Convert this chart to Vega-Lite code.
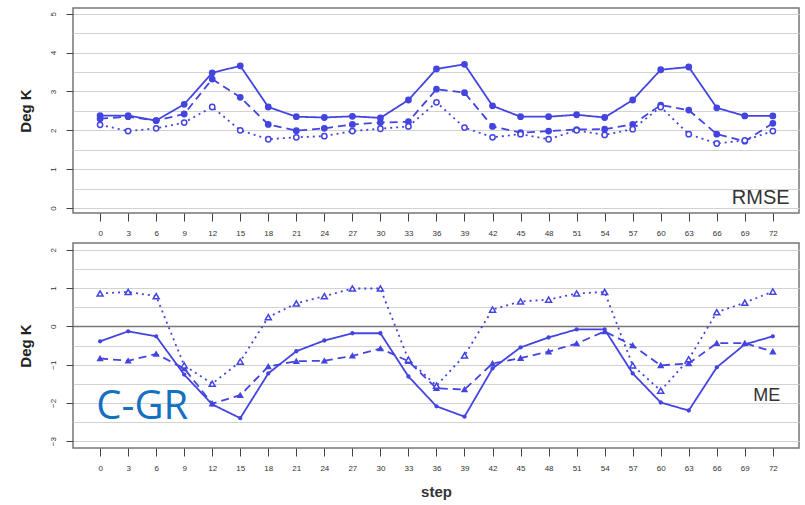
{
  "$schema": "https://vega.github.io/schema/vega-lite/v6.json",
  "padding": {"left": 17, "top": 7, "right": 5, "bottom": 5},
  "background": "white",
  "spacing": 4,
  "datasets": {
    "rmse": [
      {"step":0,"series":"s1","value":2.38},{"step":3,"series":"s1","value":2.38},{"step":6,"series":"s1","value":2.25},{"step":9,"series":"s1","value":2.67},{"step":12,"series":"s1","value":3.48},{"step":15,"series":"s1","value":3.66},{"step":18,"series":"s1","value":2.6},{"step":21,"series":"s1","value":2.35},{"step":24,"series":"s1","value":2.33},{"step":27,"series":"s1","value":2.36},{"step":30,"series":"s1","value":2.32},{"step":33,"series":"s1","value":2.78},{"step":36,"series":"s1","value":3.58},{"step":39,"series":"s1","value":3.7},{"step":42,"series":"s1","value":2.63},{"step":45,"series":"s1","value":2.35},{"step":48,"series":"s1","value":2.35},{"step":51,"series":"s1","value":2.4},{"step":54,"series":"s1","value":2.33},{"step":57,"series":"s1","value":2.78},{"step":60,"series":"s1","value":3.56},{"step":63,"series":"s1","value":3.63},{"step":66,"series":"s1","value":2.58},{"step":69,"series":"s1","value":2.37},{"step":72,"series":"s1","value":2.37},
      {"step":0,"series":"s2","value":2.3},{"step":3,"series":"s2","value":2.35},{"step":6,"series":"s2","value":2.25},{"step":9,"series":"s2","value":2.42},{"step":12,"series":"s2","value":3.32},{"step":15,"series":"s2","value":2.85},{"step":18,"series":"s2","value":2.15},{"step":21,"series":"s2","value":1.99},{"step":24,"series":"s2","value":2.05},{"step":27,"series":"s2","value":2.15},{"step":30,"series":"s2","value":2.2},{"step":33,"series":"s2","value":2.22},{"step":36,"series":"s2","value":3.06},{"step":39,"series":"s2","value":2.97},{"step":42,"series":"s2","value":2.1},{"step":45,"series":"s2","value":1.94},{"step":48,"series":"s2","value":1.98},{"step":51,"series":"s2","value":2.02},{"step":54,"series":"s2","value":2.03},{"step":57,"series":"s2","value":2.15},{"step":60,"series":"s2","value":2.65},{"step":63,"series":"s2","value":2.52},{"step":66,"series":"s2","value":1.9},{"step":69,"series":"s2","value":1.72},{"step":72,"series":"s2","value":2.18},
      {"step":0,"series":"s3","value":2.14},{"step":3,"series":"s3","value":1.98},{"step":6,"series":"s3","value":2.05},{"step":9,"series":"s3","value":2.2},{"step":12,"series":"s3","value":2.6},{"step":15,"series":"s3","value":2.0},{"step":18,"series":"s3","value":1.77},{"step":21,"series":"s3","value":1.82},{"step":24,"series":"s3","value":1.85},{"step":27,"series":"s3","value":1.98},{"step":30,"series":"s3","value":2.04},{"step":33,"series":"s3","value":2.1},{"step":36,"series":"s3","value":2.72},{"step":39,"series":"s3","value":2.07},{"step":42,"series":"s3","value":1.82},{"step":45,"series":"s3","value":1.9},{"step":48,"series":"s3","value":1.77},{"step":51,"series":"s3","value":2.0},{"step":54,"series":"s3","value":1.88},{"step":57,"series":"s3","value":2.03},{"step":60,"series":"s3","value":2.6},{"step":63,"series":"s3","value":1.9},{"step":66,"series":"s3","value":1.66},{"step":69,"series":"s3","value":1.74},{"step":72,"series":"s3","value":1.98}
    ],
    "me": [
      {"step":0,"series":"s1","value":-0.39},{"step":3,"series":"s1","value":-0.13},{"step":6,"series":"s1","value":-0.26},{"step":9,"series":"s1","value":-1.26},{"step":12,"series":"s1","value":-2.04},{"step":15,"series":"s1","value":-2.4},{"step":18,"series":"s1","value":-1.23},{"step":21,"series":"s1","value":-0.65},{"step":24,"series":"s1","value":-0.37},{"step":27,"series":"s1","value":-0.18},{"step":30,"series":"s1","value":-0.18},{"step":33,"series":"s1","value":-1.31},{"step":36,"series":"s1","value":-2.09},{"step":39,"series":"s1","value":-2.36},{"step":42,"series":"s1","value":-1.1},{"step":45,"series":"s1","value":-0.55},{"step":48,"series":"s1","value":-0.29},{"step":51,"series":"s1","value":-0.08},{"step":54,"series":"s1","value":-0.08},{"step":57,"series":"s1","value":-1.23},{"step":60,"series":"s1","value":-1.99},{"step":63,"series":"s1","value":-2.2},{"step":66,"series":"s1","value":-1.07},{"step":69,"series":"s1","value":-0.47},{"step":72,"series":"s1","value":-0.26},
      {"step":0,"series":"s2","value":-0.84},{"step":3,"series":"s2","value":-0.9},{"step":6,"series":"s2","value":-0.72},{"step":9,"series":"s2","value":-1.1},{"step":12,"series":"s2","value":-2.02},{"step":15,"series":"s2","value":-1.8},{"step":18,"series":"s2","value":-1.05},{"step":21,"series":"s2","value":-0.91},{"step":24,"series":"s2","value":-0.9},{"step":27,"series":"s2","value":-0.77},{"step":30,"series":"s2","value":-0.58},{"step":33,"series":"s2","value":-0.91},{"step":36,"series":"s2","value":-1.62},{"step":39,"series":"s2","value":-1.65},{"step":42,"series":"s2","value":-0.97},{"step":45,"series":"s2","value":-0.83},{"step":48,"series":"s2","value":-0.66},{"step":51,"series":"s2","value":-0.45},{"step":54,"series":"s2","value":-0.13},{"step":57,"series":"s2","value":-0.5},{"step":60,"series":"s2","value":-1.02},{"step":63,"series":"s2","value":-0.97},{"step":66,"series":"s2","value":-0.44},{"step":69,"series":"s2","value":-0.44},{"step":72,"series":"s2","value":-0.66},
      {"step":0,"series":"s3","value":0.86},{"step":3,"series":"s3","value":0.9},{"step":6,"series":"s3","value":0.79},{"step":9,"series":"s3","value":-1.02},{"step":12,"series":"s3","value":-1.5},{"step":15,"series":"s3","value":-0.92},{"step":18,"series":"s3","value":0.24},{"step":21,"series":"s3","value":0.6},{"step":24,"series":"s3","value":0.79},{"step":27,"series":"s3","value":0.99},{"step":30,"series":"s3","value":0.99},{"step":33,"series":"s3","value":-0.87},{"step":36,"series":"s3","value":-1.55},{"step":39,"series":"s3","value":-0.76},{"step":42,"series":"s3","value":0.44},{"step":45,"series":"s3","value":0.65},{"step":48,"series":"s3","value":0.7},{"step":51,"series":"s3","value":0.86},{"step":54,"series":"s3","value":0.9},{"step":57,"series":"s3","value":-1.02},{"step":60,"series":"s3","value":-1.68},{"step":63,"series":"s3","value":-0.86},{"step":66,"series":"s3","value":0.37},{"step":69,"series":"s3","value":0.62},{"step":72,"series":"s3","value":0.91}
    ]
  },
  "vconcat": [
    {
      "width": 726,
      "height": 205,
      "layer": [
        {
          "data": {"name": "rmse"},
          "mark": {"type": "line", "strokeWidth": 1.8, "color": "#4444e0"},
          "encoding": {
            "x": {"field": "step", "type": "quantitative", "scale": {"domain": [-2.9, 74.8], "nice": false, "zero": false},
                  "axis": {"values": [0,3,6,9,12,15,18,21,24,27,30,33,36,39,42,45,48,51,54,57,60,63,66,69,72], "tickCount": 100, "format": "d", "labelOverlap": false, "title": null}},
            "y": {"field": "value", "type": "quantitative", "scale": {"domain": [-0.13, 5.15], "nice": false, "zero": false},
                  "axis": {"values": [0,0.5,1,1.5,2,2.5,3,3.5,4,4.5,5], "tickCount": 100, "labelOverlap": false, "title": "Deg K",
                           "labelExpr": "datum.value % 1 === 0 ? format(datum.value, 'd') : ''",
                           "tickColor": {"condition": {"test": "datum.value % 1 !== 0", "value": "transparent"}, "value": "#444"}}},
            "strokeDash": {"field": "series", "type": "nominal", "scale": {"domain": ["s1","s2","s3"], "range": [[1,0],[8,5],[2,4]]}, "legend": null}
          }
        },
        {
          "data": {"name": "rmse"},
          "mark": {"type": "point", "filled": true, "size": 28, "stroke": "#4444e0", "strokeWidth": 1.5, "shape": "circle", "opacity": 1},
          "encoding": {
            "x": {"field": "step", "type": "quantitative"},
            "y": {"field": "value", "type": "quantitative"},
            "fill": {"field": "series", "type": "nominal", "scale": {"domain": ["s1","s2","s3"], "range": ["#4444e0","#4444e0","#ffffff"]}, "legend": null}
          }
        },
        {
          "data": {"values": [{"step": 73.8, "value": 0.26, "label": "RMSE"}]},
          "mark": {"type": "text", "align": "right", "baseline": "middle", "fontSize": 20, "color": "#333333", "font": "Liberation Sans"},
          "encoding": {
            "x": {"field": "step", "type": "quantitative"},
            "y": {"field": "value", "type": "quantitative"},
            "text": {"field": "label"}
          }
        }
      ]
    },
    {
      "width": 726,
      "height": 205,
      "layer": [
        {
          "data": {"name": "me"},
          "mark": {"type": "line", "strokeWidth": 1.8, "color": "#4444e0"},
          "encoding": {
            "x": {"field": "step", "type": "quantitative", "scale": {"domain": [-2.9, 74.8], "nice": false, "zero": false},
                  "axis": {"values": [0,3,6,9,12,15,18,21,24,27,30,33,36,39,42,45,48,51,54,57,60,63,66,69,72], "tickCount": 100, "format": "d", "labelOverlap": false, "title": "step"}},
            "y": {"field": "value", "type": "quantitative", "scale": {"domain": [-3.18, 2.18], "nice": false, "zero": false},
                  "axis": {"values": [-3,-2.5,-2,-1.5,-1,-0.5,0,0.5,1,1.5,2], "tickCount": 100, "labelOverlap": false, "title": "Deg K",
                           "labelExpr": "datum.value % 1 === 0 ? format(datum.value, 'd') : ''",
                           "tickColor": {"condition": {"test": "datum.value % 1 !== 0", "value": "transparent"}, "value": "#444"},
                           "gridColor": {"condition": {"test": "datum.value === 0", "value": "#777777"}, "value": "#d2d2d2"},
                           "gridWidth": {"condition": {"test": "datum.value === 0", "value": 1.5}, "value": 1}}},
            "strokeDash": {"field": "series", "type": "nominal", "scale": {"domain": ["s1","s2","s3"], "range": [[1,0],[8,5],[2,4]]}, "legend": null}
          }
        },
        {
          "data": {"name": "me"},
          "mark": {"type": "point", "filled": true, "stroke": "#4444e0", "strokeWidth": 1.5, "opacity": 1},
          "encoding": {
            "x": {"field": "step", "type": "quantitative"},
            "y": {"field": "value", "type": "quantitative"},
            "shape": {"field": "series", "type": "nominal", "scale": {"domain": ["s1","s2","s3"], "range": ["circle","triangle-up","triangle-up"]}, "legend": null},
            "size": {"field": "series", "type": "nominal", "scale": {"domain": ["s1","s2","s3"], "range": [8, 36, 36]}, "legend": null},
            "fill": {"field": "series", "type": "nominal", "scale": {"domain": ["s1","s2","s3"], "range": ["#4444e0","#4444e0","#ffffff"]}, "legend": null}
          }
        },
        {
          "data": {"values": [{"step": 72.8, "value": -1.83, "label": "ME"}]},
          "mark": {"type": "text", "align": "right", "baseline": "middle", "fontSize": 18, "color": "#333333", "font": "Liberation Sans"},
          "encoding": {
            "x": {"field": "step", "type": "quantitative"},
            "y": {"field": "value", "type": "quantitative"},
            "text": {"field": "label"}
          }
        },
        {
          "data": {"values": [{"step": -0.4, "value": -2.12, "label": "C-GR"}]},
          "mark": {"type": "text", "align": "left", "baseline": "middle", "fontSize": 40, "color": "#1570c0", "font": "Open Sans"},
          "encoding": {
            "x": {"field": "step", "type": "quantitative"},
            "y": {"field": "value", "type": "quantitative"},
            "text": {"field": "label"}
          }
        }
      ]
    }
  ],
  "resolve": {"scale": {"fill": "independent", "shape": "independent", "size": "independent"}},
  "config": {
    "font": "Liberation Sans",
    "view": {"stroke": "#777777", "strokeWidth": 1.5},
    "axisX": {"domain": false, "grid": false, "tickSize": 8, "tickColor": "#444444", "tickWidth": 1,
              "labelFontSize": 8, "labelColor": "#333333", "labelPadding": 8, "labelFlush": false, "labelOverlap": false,
              "titleFontSize": 15, "titleFontWeight": "bold", "titleColor": "#333333", "titlePadding": 12},
    "axisY": {"domain": false, "grid": true, "gridColor": "#d2d2d2", "tickSize": 7, "tickWidth": 1,
              "labelFontSize": 8, "labelColor": "#333333", "labelPadding": 9, "labelAngle": 270, "labelFlush": false,
              "titleFontSize": 15, "titleFontWeight": "bold", "titleColor": "#222222", "titlePadding": 16}
  }
}
